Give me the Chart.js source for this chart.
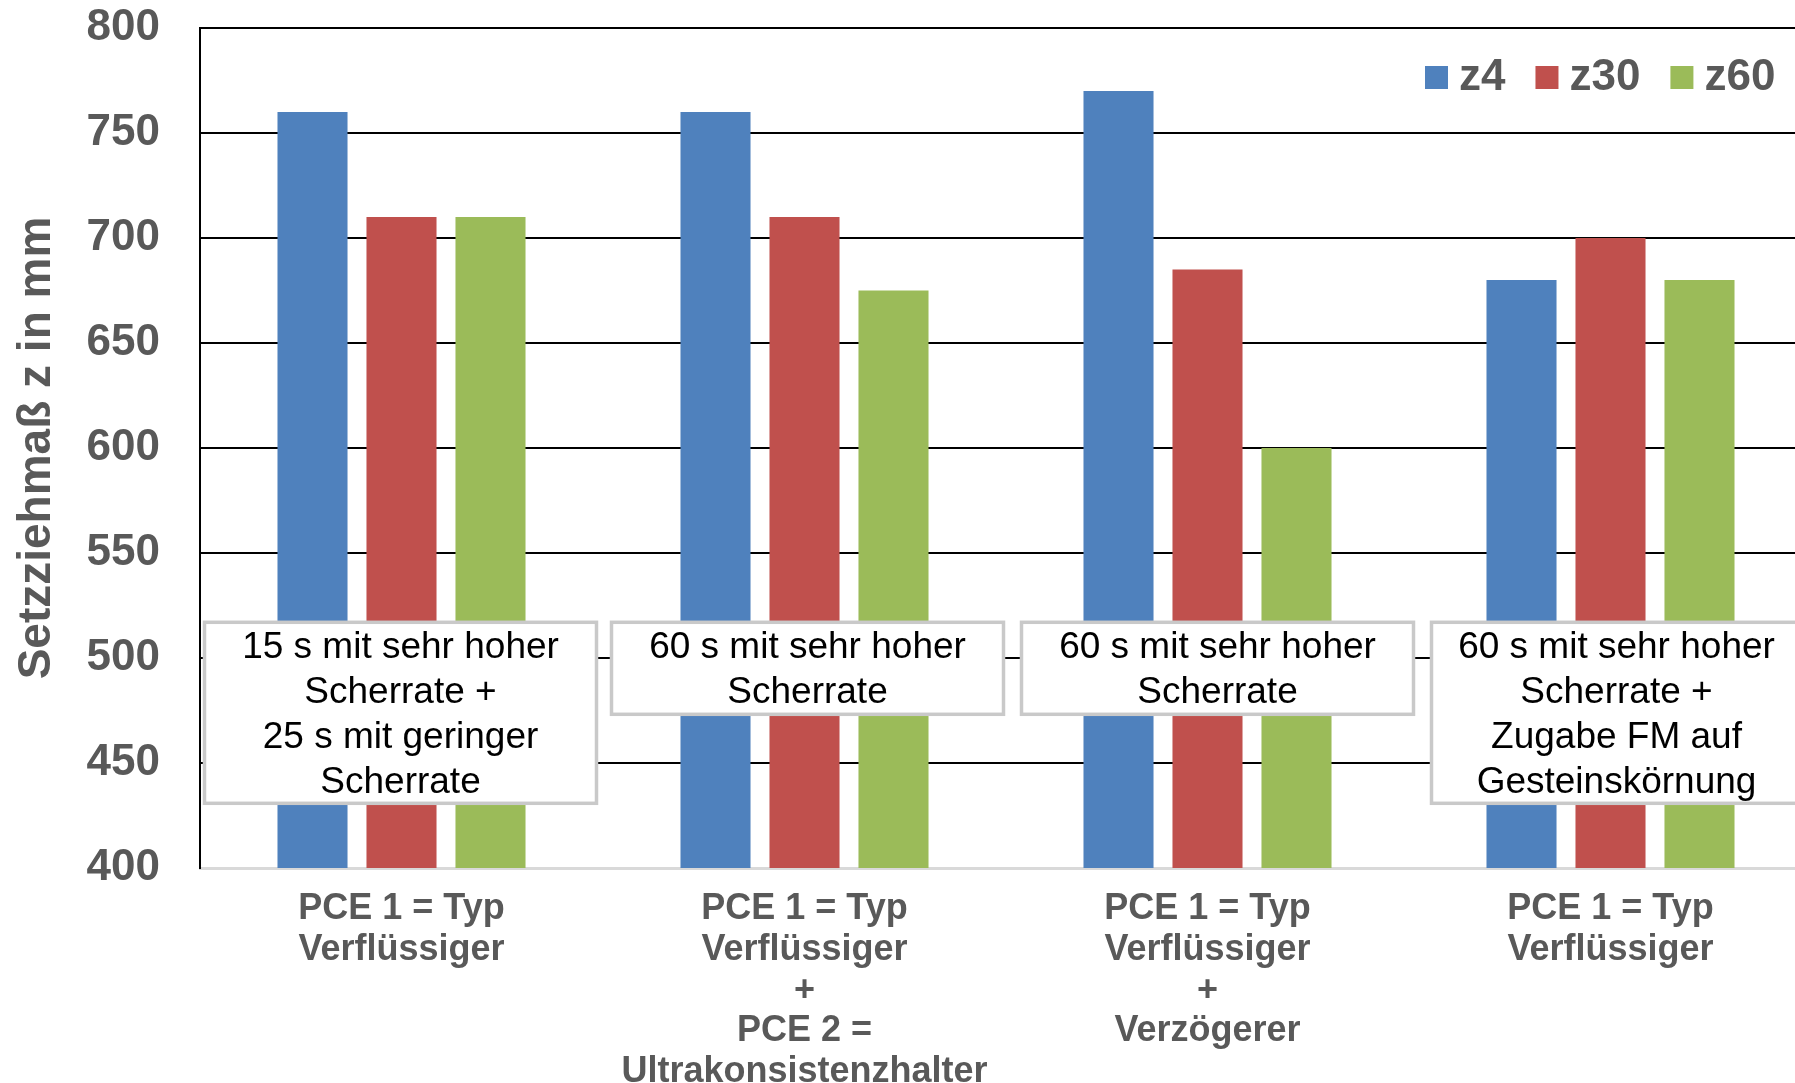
<!DOCTYPE html>
<html>
<head>
<meta charset="utf-8">
<script src="https://cdn.jsdelivr.net/npm/chart.js@4/dist/chart.umd.min.js"></script>
<style>
  html, body { margin: 0; padding: 0; background: #fff; overflow: hidden; }
  #wrap { width: 1812px; height: 1083px; position: relative; }
</style>
</head>
<body>
<div id="wrap"><canvas id="chart"></canvas></div>
<script>
// data
const categories = [
    ['PCE 1 = Typ', 'Verflüssiger'],
    ['PCE 1 = Typ', 'Verflüssiger', '+', 'PCE 2 =', 'Ultrakonsistenzhalter'],
    ['PCE 1 = Typ', 'Verflüssiger', '+', 'Verzögerer'],
    ['PCE 1 = Typ', 'Verflüssiger']
];
const seriesNames = ['z4', 'z30', 'z60'];
const z4 = [760, 760, 770, 680];
const z30 = [710, 710, 685, 700];
const z60 = [710, 675, 600, 680];
const boxTexts = [
    ['15 s mit sehr hoher', 'Scherrate +', '25 s mit geringer', 'Scherrate'],
    ['60 s mit sehr hoher', 'Scherrate'],
    ['60 s mit sehr hoher', 'Scherrate'],
    ['60 s mit sehr hoher', 'Scherrate +', 'Zugabe FM auf', 'Gesteinskörnung']
];
const yTicks = [400, 450, 500, 550, 600, 650, 700, 750, 800];

const colors = ['#4F81BD', '#C0504D', '#9BBB59'];
const FONT = '"Liberation Sans", Arial, sans-serif';
const GREY = '#595959';

// text boxes over the bars + legend inside the plot
const overlay = {
    id: 'overlay',
    afterDatasetsDraw(chart) {
        const ctx = chart.ctx;
        const x = chart.scales.x, y = chart.scales.y;
        const top = y.getPixelForValue(517);
        const shift = [-1, 3, 10, 6];
        ctx.save();
        boxTexts.forEach((lines, i) => {
            const cx = x.getPixelForValue(i) + shift[i];
            const left = cx - 196 + (i === 3 ? 11 : 0);
            const w = cx + 196 - left, h = lines.length > 2 ? 181 : 92;
            ctx.fillStyle = '#fff';
            ctx.fillRect(left, top, w, h);
            ctx.strokeStyle = '#c9c9c9';
            ctx.lineWidth = 3.5;
            ctx.strokeRect(left, top, w, h);
            ctx.fillStyle = '#000';
            ctx.font = '37px ' + FONT;
            ctx.textAlign = 'center';
            ctx.textBaseline = 'middle';
            lines.forEach((t, j) => ctx.fillText(t, cx, top + 25 + j * 45));
        });

        // legend
        let lx = chart.chartArea.left + 1225;
        const ly = 77;
        ctx.font = 'bold 44px ' + FONT;
        ctx.textAlign = 'left';
        chart.data.datasets.forEach(ds => {
            ctx.fillStyle = ds.backgroundColor;
            ctx.fillRect(lx, ly - 11, 23, 23);
            lx += 34;
            ctx.fillStyle = GREY;
            ctx.fillText(ds.label, lx, ly + 1);
            lx += ctx.measureText(ds.label).width + 30;
        });
        ctx.restore();
    }
};

const ctx = document.getElementById('chart');
new Chart(ctx, {
    type: 'bar',
    data: {
        labels: categories,
        datasets: [
            { label: seriesNames[0], data: z4, backgroundColor: colors[0] },
            { label: seriesNames[1], data: z30, backgroundColor: colors[1] },
            { label: seriesNames[2], data: z60, backgroundColor: colors[2] }
        ]
    },
    options: {
        responsive: true,
        maintainAspectRatio: false,
        animation: false,
        devicePixelRatio: 1,
        categoryPercentage: 0.6625,
        barPercentage: 0.787,
        layout: { padding: { top: 28, left: 0, right: 0, bottom: 0 } },
        plugins: {
            legend: { display: false },
            tooltip: { enabled: false }
        },
        scales: {
            x: {
                grid: { display: false, drawTicks: false },
                border: { color: '#d9d9d9', width: 3 },
                ticks: {
                    color: GREY,
                    padding: 21,
                    maxRotation: 0,
                    autoSkip: false,
                    font: { family: FONT, size: 36, weight: 'bold', lineHeight: 1.13 }
                },
                afterFit(scale) {
                    scale.height = 215;
                    scale.paddingLeft = 0;
                    scale.paddingRight = 0;
                }
            },
            y: {
                min: 400,
                max: 800,
                afterBuildTicks(scale) { scale.ticks = yTicks.map(v => ({ value: v })); },
                grid: {
                    color: c => (c.tick && c.tick.value === 400) ? 'rgba(0,0,0,0)' : '#000',
                    lineWidth: 2,
                    drawTicks: false
                },
                border: { color: '#000', width: 2 },
                ticks: {
                    color: GREY,
                    padding: 40,
                    font: { family: FONT, size: 44, weight: 'bold' }
                },
                title: {
                    display: true,
                    text: 'Setzziehmaß z in mm',
                    color: GREY,
                    padding: { top: 10, bottom: 0 },
                    font: { family: FONT, size: 46, weight: 'bold' }
                },
                afterFit(scale) {
                    scale.width = 200;
                    scale.paddingTop = 0;
                    scale.paddingBottom = 0;
                }
            }
        }
    },
    plugins: [overlay]
});
</script>
</body>
</html>
